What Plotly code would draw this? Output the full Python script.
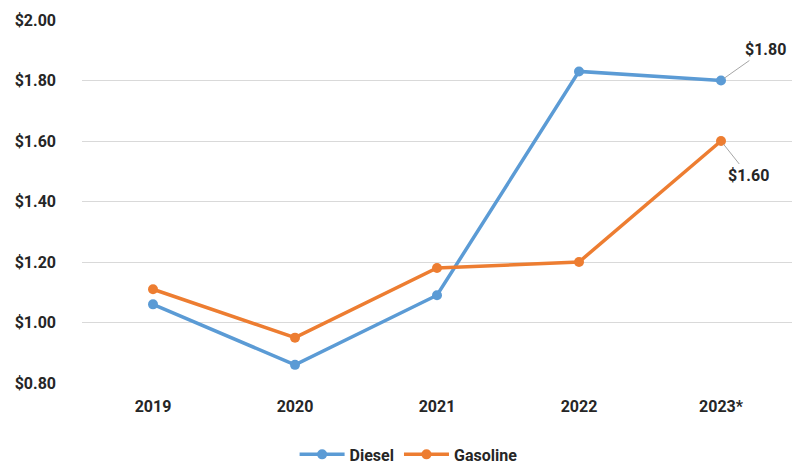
import plotly.graph_objects as go

years = ["2019", "2020", "2021", "2022", "2023*"]
diesel = [1.06, 0.86, 1.09, 1.83, 1.80]
gasoline = [1.11, 0.95, 1.18, 1.20, 1.60]
y_ticks = [0.8, 1.0, 1.2, 1.4, 1.6, 1.8, 2.0]
y_labels = ["$%.2f" % v for v in y_ticks]

FONT = "Roboto, sans-serif"
TXT = "#262626"
FS = 16

fig = go.Figure()
fig.add_trace(go.Scatter(x=years, y=diesel, name="<b>Diesel</b>", mode="lines+markers",
                         line=dict(color="#5B9BD5", width=3.5),
                         marker=dict(size=10, color="#5B9BD5"), cliponaxis=False))
fig.add_trace(go.Scatter(x=years, y=gasoline, name="<b>Gasoline</b>", mode="lines+markers",
                         line=dict(color="#ED7D31", width=3.5),
                         marker=dict(size=10, color="#ED7D31"), cliponaxis=False))

fig.add_annotation(x=years[4], y=diesel[4], text="<b>$%.2f</b>" % diesel[4],
                   showarrow=True, arrowhead=0, arrowwidth=1, arrowcolor="#A6A6A6",
                   ax=44, ay=-31, standoff=4,
                   font=dict(family=FONT, size=FS, color=TXT))
fig.add_annotation(x=years[4], y=gasoline[4], text="<b>$%.2f</b>" % gasoline[4],
                   showarrow=True, arrowhead=0, arrowwidth=1, arrowcolor="#A6A6A6",
                   ax=27, ay=34, standoff=4,
                   font=dict(family=FONT, size=FS, color=TXT))

fig.update_layout(
    width=793, height=465,
    margin=dict(l=82, r=1, t=20, b=82, autoexpand=False),
    plot_bgcolor="white", paper_bgcolor="white",
    font=dict(family=FONT, size=FS, color=TXT),
    showlegend=True,
    legend=dict(orientation="h", x=0.46, xanchor="center", y=-0.15, yanchor="top",
                font=dict(family=FONT, size=FS, color=TXT), itemwidth=45),
    xaxis=dict(range=[-0.5, 4.5], showgrid=False, showline=False, zeroline=False, ticks="",
               tickfont=dict(family=FONT, size=FS, color=TXT),
               ticklabelstandoff=12, automargin=False),
    yaxis=dict(range=[0.8, 2.0], tickvals=y_ticks, ticktext=["<b>%s</b>" % t for t in y_labels],
               showgrid=True, gridcolor="#D9D9D9", gridwidth=1,
               showline=False, zeroline=False, ticks="",
               tickfont=dict(family=FONT, size=FS, color=TXT),
               ticklabelstandoff=25, automargin=False),
)
fig.update_xaxes(ticktext=["<b>%s</b>" % y for y in years], tickvals=years)
fig.write_html("out.html")
